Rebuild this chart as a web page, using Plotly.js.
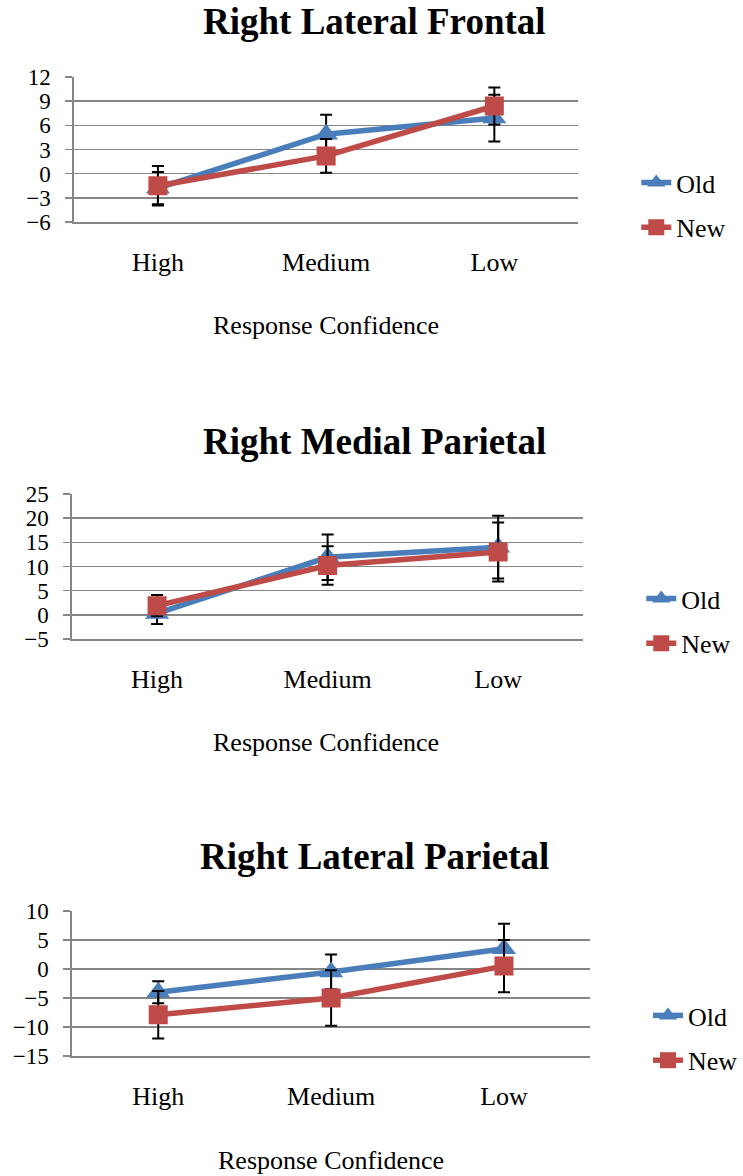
<!DOCTYPE html>
<html>
<head>
<meta charset="utf-8">
<script src="https://cdn.plot.ly/plotly-3.0.1.min.js"></script>
<style>
  body { margin: 0; background: #fff; }
  #plot-container { width: 743px; height: 1176px; }
</style>
</head>
<body>
<div id="plot-container"></div>
<script>
// categories on every x axis
var categories = ['High', 'Medium', 'Low'];

// Right Lateral Frontal
var frontalOld = [-1.8, 4.9, 6.9];
var frontalOldErr = [2.0, 2.4, 2.9];
var frontalNew = [-1.5, 2.2, 8.4];
var frontalNewErr = [2.45, 2.1, 2.3];

// Right Medial Parietal
var medialOld = [0.3, 11.9, 14.0];
var medialOldErr = [2.2, 4.7, 6.5];
var medialNew = [1.9, 10.2, 13.0];
var medialNewErr = [2.2, 4.0, 6.1];

// Right Lateral Parietal
var lateralOld = [-4.0, -0.5, 3.5];
var lateralOldErr = [1.9, 3.0, 4.3];
var lateralNew = [-7.9, -5.0, 0.5];
var lateralNewErr = [4.1, 4.8, 4.5];

var panelTitles = ['Right Lateral Frontal', 'Right Medial Parietal', 'Right Lateral Parietal'];
var axisTitle = 'Response Confidence';

var BLUE = '#4A7EBB';
var RED = '#BE4B48';
var GRID = '#868686';
var FONT = '"Liberation Serif", serif';
var W = 743, H = 1176;

function makeTrace(y, err, name, color, symbol, n) {
    var suffix = n === 1 ? '' : String(n);
    return {
        x: categories,
        y: y,
        name: name,
        type: 'scatter',
        mode: 'lines+markers',
        xaxis: 'x' + suffix,
        yaxis: 'y' + suffix,
        legend: 'legend' + suffix,
        legendgroup: name + n,
        line: { color: color, width: 5.5 },
        marker: { color: color, symbol: symbol, size: symbol === 'square' ? 19 : 21 },
        error_y: { type: 'data', array: err, visible: true, color: '#000', thickness: 2, width: 6 }
    };
}

var data = [
    makeTrace(frontalOld, frontalOldErr, 'Old', BLUE, 'triangle-up', 1),
    makeTrace(frontalNew, frontalNewErr, 'New', RED, 'square', 1),
    makeTrace(medialOld, medialOldErr, 'Old', BLUE, 'triangle-up', 2),
    makeTrace(medialNew, medialNewErr, 'New', RED, 'square', 2),
    makeTrace(lateralOld, lateralOldErr, 'Old', BLUE, 'triangle-up', 3),
    makeTrace(lateralNew, lateralNewErr, 'New', RED, 'square', 3)
];

// pixel helpers (paper = whole page, margins are 0)
function px(x) { return x / W; }
function py(y) { return 1 - y / H; }

function xAxis(left, right, anchor) {
    return {
        domain: [px(left), px(right)],
        anchor: anchor,
        type: 'category',
        range: [-0.5, 2.5],
        showgrid: false,
        showline: true,
        linecolor: GRID,
        linewidth: 1.5,
        ticks: '',
        ticklabelstandoff: 16,
        tickfont: { family: FONT, size: 26, color: '#000' },
        fixedrange: true
    };
}

function yAxis(top, bottom, range, dtick, anchor) {
    return {
        domain: [py(bottom), py(top)],
        anchor: anchor,
        range: range,
        dtick: dtick,
        showgrid: true,
        gridcolor: GRID,
        gridwidth: 1.5,
        zeroline: false,
        showline: true,
        linecolor: GRID,
        linewidth: 1.5,
        ticks: 'outside',
        ticklen: 7,
        tickcolor: GRID,
        tickwidth: 1.5,
        ticklabelstandoff: 10,
        tickfont: { family: FONT, size: 23, color: '#000' },
        fixedrange: true
    };
}

function legendAt(x, y) {
    return {
        x: px(x), y: py(y), xanchor: 'left', yanchor: 'top',
        font: { family: FONT, size: 26, color: '#000' },
        bgcolor: 'rgba(0,0,0,0)',
        traceorder: 'grouped',
        tracegroupgap: 8
    };
}

var annotations = [];
var titleY = [22, 441, 857];
var axisTitleY = [325, 742, 1160];
var axisTitleX = [327, 327, 332];
for (var i = 0; i < 3; i++) {
    annotations.push({
        text: '<b>' + panelTitles[i] + '</b>', xref: 'paper', yref: 'paper',
        x: px(376), y: py(titleY[i]), xanchor: 'center', yanchor: 'middle',
        showarrow: false, font: { family: FONT, size: 37, color: '#000' }
    });
    annotations.push({
        text: axisTitle, xref: 'paper', yref: 'paper',
        x: px(axisTitleX[i]), y: py(axisTitleY[i]), xanchor: 'center', yanchor: 'middle',
        showarrow: false, font: { family: FONT, size: 26, color: '#000' }
    });
}

var layout = {
    width: W,
    height: H,
    margin: { l: 0, r: 0, t: 0, b: 0 },
    paper_bgcolor: '#fff',
    plot_bgcolor: '#fff',
    showlegend: true,
    xaxis: xAxis(74, 580, 'y'),
    yaxis: yAxis(77, 222, [-6, 12], 3, 'x'),
    xaxis2: xAxis(72, 585, 'y2'),
    yaxis2: yAxis(494, 639, [-5, 25], 5, 'x2'),
    xaxis3: xAxis(72, 592, 'y3'),
    yaxis3: yAxis(911, 1056, [-15, 10], 5, 'x3'),
    legend: legendAt(638, 159),
    legend2: legendAt(643, 575),
    legend3: legendAt(650, 992),
    annotations: annotations
};

Plotly.newPlot(document.getElementById('plot-container'), data, layout, { displayModeBar: false, staticPlot: true });
</script>
</body>
</html>
